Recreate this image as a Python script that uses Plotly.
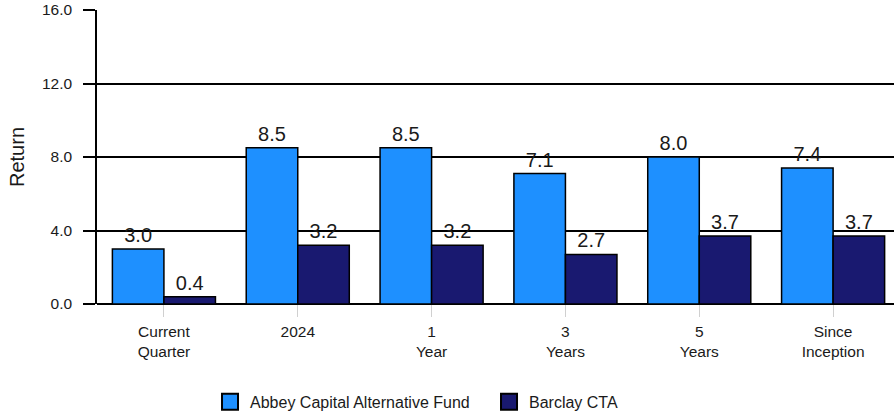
import plotly.graph_objects as go

categories = ["Current<br>Quarter", "2024", "1<br>Year", "3<br>Years", "5<br>Years", "Since<br>Inception"]
fund_name = "Abbey Capital Alternative Fund"
bench_name = "Barclay CTA"
fund_returns = [3.0, 8.5, 8.5, 7.1, 8.0, 7.4]
bench_returns = [0.4, 3.2, 3.2, 2.7, 3.7, 3.7]
y_ticks = [0, 4, 8, 12, 16]

FUND_COLOR = "#1E90FF"
BENCH_COLOR = "#191970"
FONT = "Liberation Sans, Arial, sans-serif"
TEXT = "#1a1a1a"

fig = go.Figure()
for name, vals, color in [(fund_name, fund_returns, FUND_COLOR), (bench_name, bench_returns, BENCH_COLOR)]:
    fig.add_trace(go.Bar(
        x=categories, y=vals, name=name, showlegend=False,
        marker=dict(color=color, line=dict(color="black", width=1.5)),
        text=[f"{v:.1f}" for v in vals], textposition="outside",
        textfont=dict(size=20, color=TEXT, family=FONT),
        cliponaxis=False,
    ))
    # legend entry with a larger square key
    fig.add_trace(go.Scatter(
        x=[None], y=[None], mode="markers", name=name,
        marker=dict(symbol="square", size=22, color=color, line=dict(color="black", width=2)),
    ))

fig.update_layout(
    width=894, height=417,
    margin=dict(l=97, r=0, t=10, b=113, autoexpand=False),
    plot_bgcolor="white", paper_bgcolor="white",
    barmode="group", bargap=0.23, bargroupgap=0,
    font=dict(family=FONT, color=TEXT, size=15.5),
    showlegend=True,
    legend=dict(orientation="h", x=0.1418, xanchor="left",
                y=-0.333, yanchor="middle",
                font=dict(size=16, color=TEXT), itemsizing="trace",
                entrywidth=234, entrywidthmode="pixels",
                traceorder="normal"),
    xaxis=dict(
        range=[-0.5, 5.455], showgrid=False, ticks="outside", ticklen=12,
        tickcolor="#d0d0d0", tickwidth=1, showline=False,
        tickfont=dict(size=15.5, color=TEXT), ticklabelstandoff=1,
    ),
    yaxis=dict(
        range=[0, 16], tickvals=y_ticks, tickformat=".1f",
        showgrid=True, gridcolor="black", gridwidth=1.5,
        ticks="outside", ticklen=12, tickcolor="black", tickwidth=1.5,
        showline=True, linecolor="black", linewidth=1.5,
        zeroline=True, zerolinecolor="black", zerolinewidth=1.5,
        title=dict(text="Return", font=dict(size=20, color=TEXT), standoff=12),
        tickfont=dict(size=15.5, color=TEXT), ticklabelstandoff=8,
    ),
)

fig.write_html("out.html")
